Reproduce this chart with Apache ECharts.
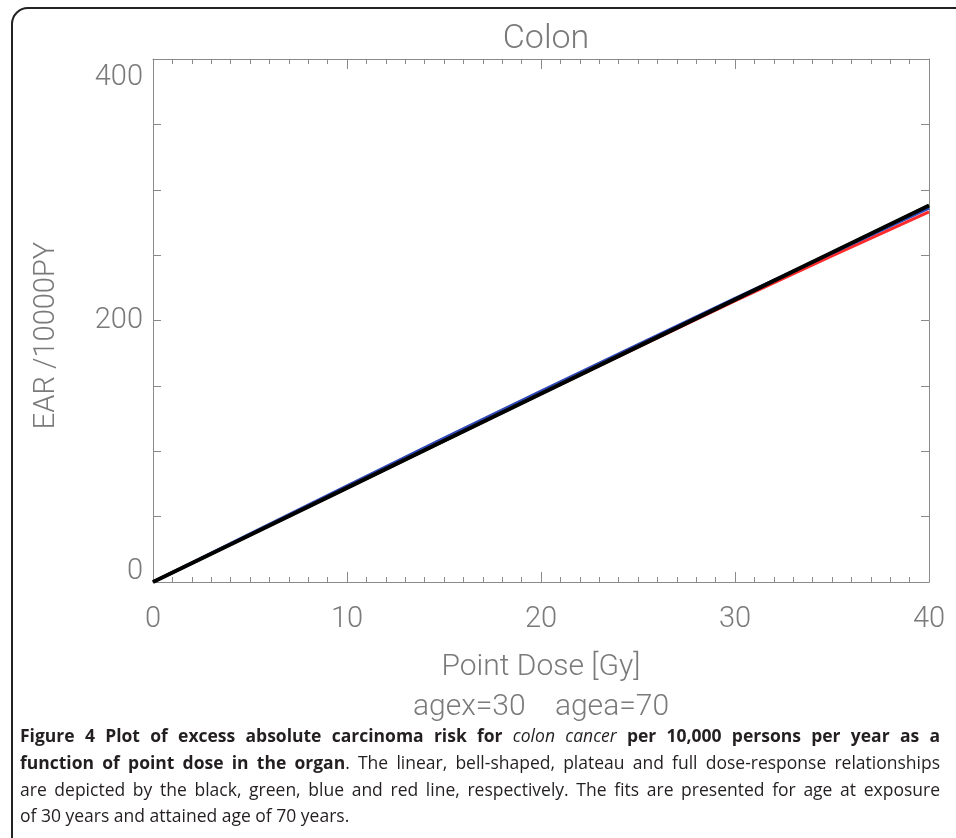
<!DOCTYPE html>
<html><head><meta charset="utf-8">
<script src="https://cdn.jsdelivr.net/npm/echarts@6/dist/echarts.min.js"></script>
<style>html,body{margin:0;padding:0;background:#fff}#c{width:956px;height:838px}</style>
</head><body><div id="c"></div>
<script>
// ---- data ----
const doses      = [0, 5, 10, 15, 20, 25, 30, 35, 40];
const fullEAR    = [0, 36, 72, 108, 144, 179.7, 215, 249.5, 283];     // red
const plateauEAR = [0, 36.8, 73.5, 110, 146, 181.5, 217, 251.5, 286]; // blue
const bellEAR    = [0, 36, 72, 108, 144, 180, 216, 252, 288];         // green
const linearEAR  = [0, 36, 72, 108, 144, 180, 216, 252, 288];         // black
const xTickLabels = [0, 10, 20, 30, 40];
const yTickLabels = [0, 200, 400];

const titleText = 'Colon';
const xName = 'Point Dose [Gy]';
const subName = 'agex=30    agea=70';
const yName = 'EAR /10000PY';
const captionLines = [
  [['b','Figure 4 Plot of excess absolute carcinoma risk for '],['i','colon cancer'],['b',' per 10,000 persons per year as a']],
  [['b','function of point dose in the organ'],['r','. The linear, bell-shaped, plateau and full dose-response relationships']],
  [['r','are depicted by the black, green, blue and red line, respectively. The fits are presented for age at exposure']],
  [['r','of 30 years and attained age of 70 years.']]
];

// ---- styles ----
const axisColor = '#8a8a8a';
const textColor = '#7a7a7a';
const plotFont = 'Roboto';
const pairs = a => doses.map((d, i) => [d, a[i]]);

// ---- caption layout (justified) ----
const capFont = 'Open Sans', capSize = 17.5, capLeft = 20, capRight = 940;
const capY = [737, 764, 791, 817];
const cv = document.createElement('canvas').getContext('2d');
function fontOf(s){ const st = s==='i'?'italic':'normal'; const w = s==='b'?'bold':'normal'; return st+' '+w+' '+capSize+'px "'+capFont+'"'; }
const graphics = [];
captionLines.forEach((line, li) => {
  const words = [];
  line.forEach(([s, t]) => {
    const parts = t.split(' ');
    parts.forEach((p, pi) => {
      if (p === '') { if (words.length) words[words.length-1].spaceAfter = true; return; }
      if (pi > 0 && words.length) words[words.length-1].spaceAfter = true;
      words.push({s, t: p, spaceAfter: false});
    });
  });
  const tokens = [];
  let cur = [];
  words.forEach(w => { cur.push(w); if (w.spaceAfter) { tokens.push(cur); cur = []; } });
  if (cur.length) tokens.push(cur);
  let total = 0;
  tokens.forEach(tk => { tk.w = 0; tk.forEach(w => { cv.font = fontOf(w.s); w.w = cv.measureText(w.t).width; tk.w += w.w; }); total += tk.w; });
  cv.font = fontOf('r');
  const justify = li < captionLines.length - 1;
  const gap = justify ? (capRight - capLeft - total) / (tokens.length - 1) : cv.measureText(' ').width;
  let x = capLeft;
  tokens.forEach(tk => {
    tk.forEach(w => {
      graphics.push({type:'text', silent:true, style:{text:w.t, x:x, y:capY[li], fontFamily:capFont, fontSize:capSize,
        fontWeight: w.s==='b'?'bold':'normal', fontStyle: w.s==='i'?'italic':'normal', fill:'#231f20', verticalAlign:'middle', align:'left'}});
      x += w.w;
    });
    x += gap;
  });
});
graphics.push({type:'rect', silent:true, shape:{x:12, y:8, width:1000, height:900, r:16}, style:{fill:'none', stroke:'#222', lineWidth:2}});

const chart = echarts.init(document.getElementById('c'), null, {renderer:'canvas'});
const commonX = {type:'value', min:0, max:40, interval:10, splitLine:{show:false},
  axisLine:{show:true, onZero:false, lineStyle:{color:axisColor, width:1}},
  axisTick:{show:true, inside:true, length:10, lineStyle:{color:axisColor}},
  minorTick:{show:true, splitNumber:10, length:5, lineStyle:{color:axisColor}},
  minorSplitLine:{show:false}};
const commonY = {type:'value', min:0, max:400, interval:200, splitLine:{show:false},
  axisLine:{show:true, onZero:false, lineStyle:{color:axisColor, width:1}},
  axisTick:{show:true, inside:true, length:8, lineStyle:{color:axisColor}},
  minorTick:{show:true, splitNumber:4, length:8, lineStyle:{color:axisColor}},
  minorSplitLine:{show:false}};
const lbl = {color:textColor, fontFamily:plotFont, fontWeight:300, fontSize:29};

chart.setOption({
  animation:false,
  backgroundColor:'#fff',
  title:{text:titleText, left:541, top:17, textAlign:'center',
    textStyle:{color:textColor, fontFamily:plotFont, fontWeight:300, fontSize:34}},
  grid:{left:153, right:27, top:59, bottom:256, containLabel:false},
  xAxis:[
    Object.assign({}, commonX, {position:'bottom',
      axisLabel:Object.assign({}, lbl, {margin:23, formatter: v => xTickLabels.includes(v) ? String(v) : ''}),
      name: xName + '\n' + subName, nameLocation:'middle', nameGap:65,
      nameTextStyle:{color:textColor, fontFamily:plotFont, fontWeight:300, fontSize:30, lineHeight:40, align:'center'}}),
    Object.assign({}, commonX, {position:'top', axisLabel:{show:false}})
  ],
  yAxis:[
    Object.assign({}, commonY, {position:'left',
      axisLabel:Object.assign({}, lbl, {margin:10,
        formatter: v => v === 400 ? '{hi|400}' : v === 0 ? '{lo|0}' : (yTickLabels.includes(v) ? String(v) : ''),
        rich:{
          hi:{color:textColor, fontFamily:plotFont, fontWeight:300, fontSize:29, padding:[38,0,0,0]},
          lo:{color:textColor, fontFamily:plotFont, fontWeight:300, fontSize:29, padding:[0,0,20,0]}
        }}),
      name:yName, nameLocation:'middle', nameGap:92, nameRotate:90,
      nameTextStyle:{color:textColor, fontFamily:plotFont, fontWeight:300, fontSize:29, padding:[0,30,0,0]}}),
    Object.assign({}, commonY, {position:'right', axisLabel:{show:false}})
  ],
  series:[
    {name:'full', type:'line', data:pairs(fullEAR), showSymbol:false, lineStyle:{color:'#ff2a2a', width:3}, z:2},
    {name:'plateau', type:'line', data:pairs(plateauEAR), showSymbol:false, lineStyle:{color:'#3048b8', width:3}, z:3},
    {name:'bell', type:'line', data:pairs(bellEAR), showSymbol:false, lineStyle:{color:'#10a010', width:3}, z:4},
    {name:'linear', type:'line', data:pairs(linearEAR), showSymbol:false, lineStyle:{color:'#000', width:4}, z:5}
  ],
  graphic: graphics
});
</script>
</body></html>
